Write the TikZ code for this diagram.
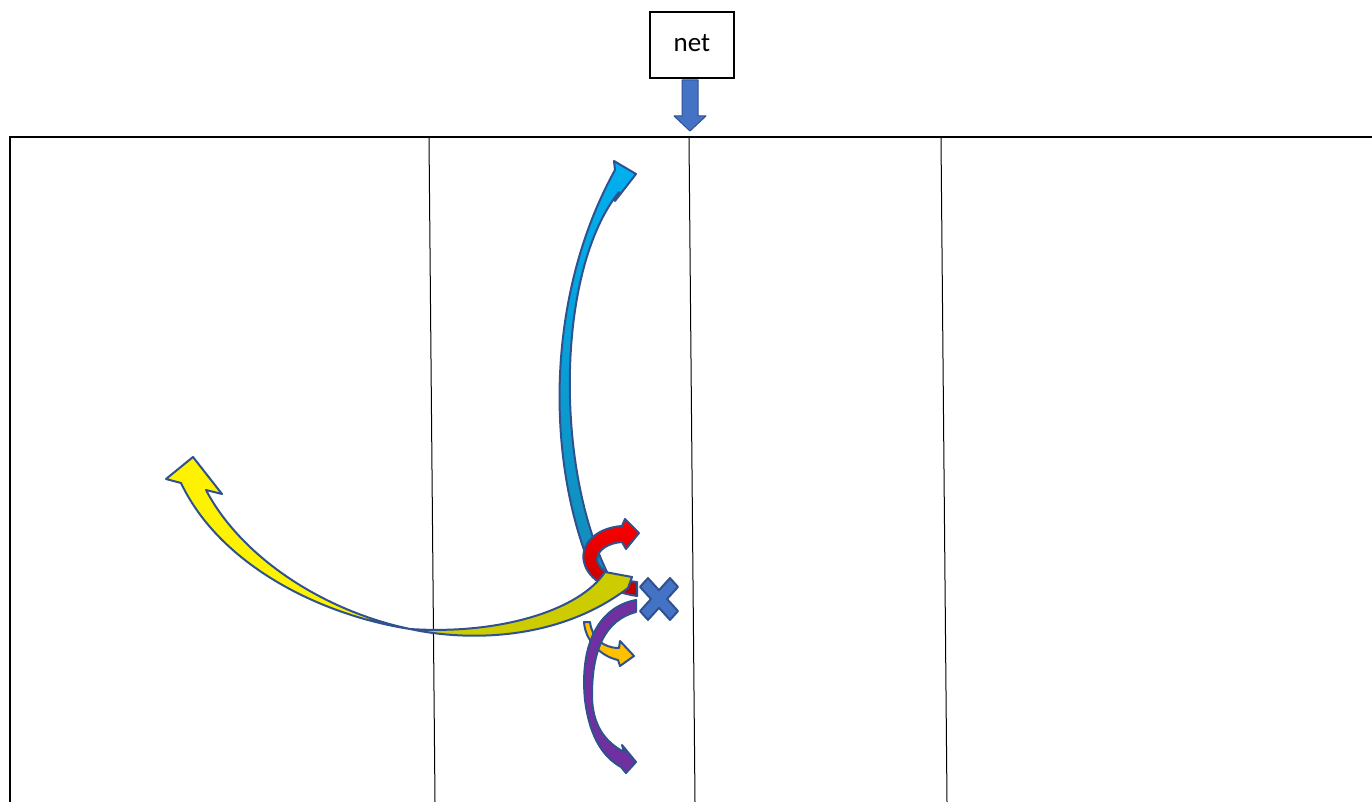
\documentclass[tikz,border=0pt]{standalone}
\usepackage{fontspec}
\setmainfont{Carlito}
\begin{document}
\begin{tikzpicture}[x=0.5pt,y=-0.5pt,
  arw/.style={draw=bordc, line width=1pt, line join=round},
  thinln/.style={draw=black, line width=0.5pt},
  netbox/.style={draw=black, line width=0.6pt, minimum width=42pt, minimum height=33pt, inner sep=0pt, font=\fontsize{13.5}{16}\selectfont}]
\definecolor{bordc}{HTML}{2F528F}
\definecolor{blu}{HTML}{4472C4}
\definecolor{cyanA}{HTML}{00B0F0}
\definecolor{cyanB}{HTML}{138BB8}
\definecolor{redB}{HTML}{C00000}
\definecolor{olive}{HTML}{CCCC00}
\definecolor{purp}{HTML}{7030A0}
\definecolor{orng}{HTML}{FFC000}
\useasboundingbox (0,0) rectangle (1372,802);
\fill[white] (0,0) rectangle (1372,802);
% frame
\draw[black, line width=1pt] (10,802) -- (10,137) -- (1372,137);
\draw[thinln] (429,138) -- (435,802);
\draw[thinln] (689,138) -- (695,802);
\draw[thinln] (941,138) -- (947,802);
% net box and arrow
\node[netbox] (net) at (692,45) {\raisebox{2pt}{net}};
\filldraw[arw, fill=blu, line width=0.5pt] (682,80) -- (698,80) -- (698,116) -- (706,116) -- (690,131) -- (674,116) -- (682,116) -- cycle;
% cyan arrow
\shadedraw[arw, top color=cyanA, bottom color=cyanB]
  (596,580) .. controls (546,470) and (543,300) .. (615,170)
  -- (614,161) -- (636,174) -- (615,201) -- (619,192)
  .. controls (556,270) and (554,470) .. (610,578) -- cycle;
% red arrow
\shadedraw[arw, top color=red, bottom color=redB]
  (622,526) .. controls (595,528) and (580,545) .. (584,562)
  .. controls (588,580) and (610,592) .. (637,596) -- (637,582)
  .. controls (615,580) and (598,570) .. (597,560)
  .. controls (597,550) and (608,543) .. (622,542)
  -- (626,549) -- (639,533) -- (625,519) -- cycle;
% orange arrow
\filldraw[arw, fill=orng]
  (584,622) .. controls (585,640) and (600,656) .. (618,660)
  -- (620,666) -- (634,656) -- (620,641) -- (619,648)
  .. controls (603,648) and (592,638) .. (590,622) -- cycle;
% purple arrow
\filldraw[arw, fill=purp]
  (636,600) .. controls (595,608) and (580,650) .. (585,700)
  .. controls (590,740) and (605,758) .. (621,767)
  -- (626,773) -- (636,762) -- (622,745) -- (624,752)
  .. controls (605,742) and (592,725) .. (592,695)
  .. controls (592,650) and (605,620) .. (636,612) -- cycle;
% yellow arrow (left part)
\filldraw[arw, fill=yellow]
  (410,629) .. controls (320,615) and (220,565) .. (181,483)
  -- (166,479) -- (193,457) -- (222,494) -- (206,490)
  .. controls (240,555) and (320,610) .. (410,629) -- cycle;
% yellow arrow (right part)
\filldraw[arw, fill=olive]
  (410,629) .. controls (470,642) and (560,640) .. (628,588)
  -- (632,577) -- (605,572)
  .. controls (580,610) and (500,635) .. (410,629) -- cycle;
% cross
\filldraw[arw, fill=blu, shift={(659,599)}, yscale=1.1]
  (-19,-11) -- (-11,-19) -- (0,-8) -- (11,-19) -- (19,-11) -- (8,0)
  -- (19,11) -- (11,19) -- (0,8) -- (-11,19) -- (-19,11) -- (-8,0) -- cycle;
\end{tikzpicture}
\end{document}
